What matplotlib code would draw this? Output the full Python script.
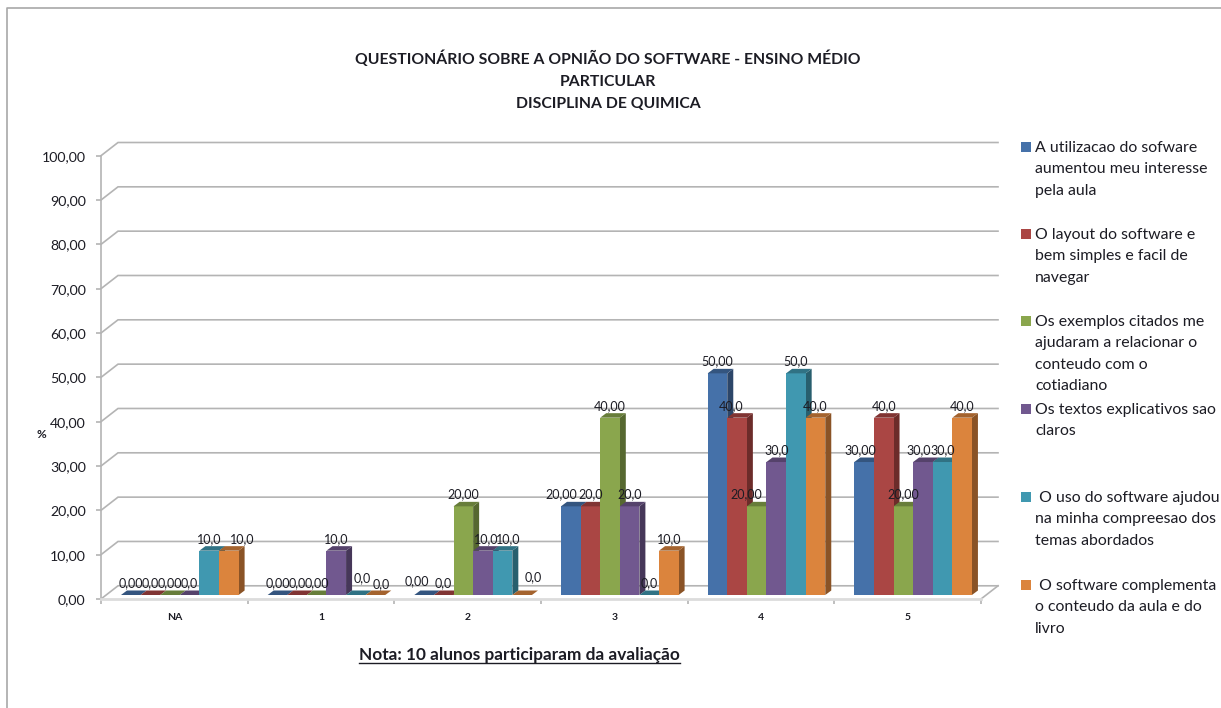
# Questionario - grafico de barras com aparencia 3D (estilo Excel)
import matplotlib
matplotlib.use('Agg')
import matplotlib.pyplot as plt
from matplotlib.patches import Polygon, Rectangle

plt.rcParams['font.family'] = ['Lato', 'DejaVu Sans']

# Dados
CATEGORIES = ['NA', '1', '2', '3', '4', '5']
INTERESSE = [0, 0, 0, 20, 50, 30]
LAYOUT = [0, 0, 0, 20, 40, 40]
EXEMPLOS = [0, 0, 20, 40, 20, 20]
TEXTOS = [0, 10, 10, 20, 30, 30]
COMPREENSAO = [10, 0, 10, 0, 50, 30]
COMPLEMENTA = [10, 0, 0, 10, 40, 40]
SERIES = [INTERESSE, LAYOUT, EXEMPLOS, TEXTOS, COMPREENSAO, COMPLEMENTA]
DECIMALS = [2, 1, 2, 1, 1, 1]
Y_TICKS = [0, 10, 20, 30, 40, 50, 60, 70, 80, 90, 100]

LEGEND = [
    'A utilizacao do sofware\naumentou meu interesse\npela aula',
    'O layout do software e\nbem simples e facil de\nnavegar',
    'Os exemplos citados me\najudaram a relacionar o\nconteudo com o\ncotiadiano',
    'Os textos explicativos sao\nclaros',
    ' O uso do software ajudou\nna minha compreesao dos\ntemas abordados',
    ' O software complementa\no conteudo da aula e do\nlivro',
]
LEGEND_Y = [147, 234, 321, 409, 497, 585]

TITLE = 'QUESTIONÁRIO SOBRE A OPNIÃO DO SOFTWARE - ENSINO MÉDIO\nPARTICULAR\nDISCIPLINA DE QUIMICA'
NOTE = 'Nota: 10 alunos participaram da avaliação'

# Cores: frente, lado, topo
FRONT = ['#4571a9', '#aa4644', '#8aa64d', '#71588f', '#4098b0', '#db843d']
SIDE = ['#2c4669', '#6c2c2a', '#566830', '#463759', '#285f6e', '#8a5326']
TOP = ['#34557f', '#803433', '#677d3a', '#55426b', '#307284', '#a4632e']
GRID = '#b4b4b4'
TEXT = '#1c1c24'

W, H = 1221, 708
LEFT, RIGHT, BOTTOM, UPPER = 101, 981, 599, 155.7
DEPTH_X, DEPTH_Y = 17, 13.2
BAR_W = 19.6
BAR_START = 20
BAR_LIFT = 4
BAR_DX, BAR_DY = 6, 4.5

# Ajustes (px) dos rotulos que o Excel deslocou
NUDGE = {
    (0, 5): (13, 0), (1, 4): (6, 5), (1, 5): (6, -1), (2, 0): (-7, 2),
    (2, 1): (0, 0), (2, 3): (3, 0), (2, 4): (6, 0), (2, 5): (11, 6),
    (4, 1): (-6, 0), (4, 2): (-10, 0), (5, 0): (-4, 0), (5, 3): (-4, 0),
    (3, 0): (-10, 0),
}

fig = plt.figure(figsize=(W / 100, H / 100), dpi=100)
ax = fig.add_axes([LEFT / W, 1 - BOTTOM / H, (RIGHT - LEFT) / W, (BOTTOM - UPPER) / H])
ax.set_xlim(0, len(CATEGORIES))
ax.set_ylim(0, 100)
ax.patch.set_visible(False)

PX = len(CATEGORIES) / (RIGHT - LEFT)
PY = 100 / (BOTTOM - UPPER)

# Paredes e grade em perspectiva
for tick in Y_TICKS:
    ax.plot([0, DEPTH_X * PX, 6 + DEPTH_X * PX],
            [tick, tick + DEPTH_Y * PY, tick + DEPTH_Y * PY],
            color=GRID, lw=1.2, clip_on=False, zorder=1, solid_joinstyle='miter')
ax.plot([6, 6 + DEPTH_X * PX], [0, DEPTH_Y * PY], color=GRID, lw=1.2, clip_on=False, zorder=1)

# Barras
for i in range(len(CATEGORIES)):
    for j, values in enumerate(SERIES):
        value = values[i]
        x0 = i + (BAR_START + j * BAR_W) * PX
        x1 = x0 + BAR_W * PX
        y0 = BAR_LIFT * PY
        y1 = y0 + value
        dx, dy = BAR_DX * PX, BAR_DY * PY
        z = 3 + i * 10 + j
        if value > 0:
            ax.add_patch(Polygon([(x1, y0), (x1 + dx, y0 + dy), (x1 + dx, y1 + dy), (x1, y1)],
                                 fc=SIDE[j], ec='none', clip_on=False, zorder=z))
            ax.bar(x0, value, width=BAR_W * PX, bottom=y0, align='edge',
                   color=FRONT[j], clip_on=False, zorder=z)
        ax.add_patch(Polygon([(x0, y1), (x0 + dx, y1 + dy), (x1 + dx, y1 + dy), (x1, y1)],
                             fc=TOP[j], ec='none', clip_on=False, zorder=z))
        nx, ny = NUDGE.get((i, j), (0, 0))
        label = f'{value:.{DECIMALS[j]}f}'.replace('.', ',')
        ax.annotate(label, ((x0 + x1) / 2, y1), xytext=(nx * 0.72, (12 + ny) * 0.72),
                    textcoords='offset points', ha='center', va='center',
                    fontsize=9, color=TEXT, zorder=200, annotation_clip=False)

# Eixos
for name in ['top', 'right']:
    ax.spines[name].set_visible(False)
for name in ['left', 'bottom']:
    ax.spines[name].set_color(GRID)
    ax.spines[name].set_linewidth(1.2)
ax.spines['bottom'].set_linewidth(2)
ax.spines['bottom'].set_color('#dcdcdc')
ax.set_yticks(Y_TICKS)
ax.set_yticklabels([f'{t:.2f}'.replace('.', ',') for t in Y_TICKS], fontsize=10.2, color=TEXT)
ax.set_xticks(range(len(CATEGORIES) + 1))
ax.set_xticklabels([])
ax.tick_params(axis='both', color=GRID, length=3.5, width=1.2, pad=7.5)
for i, name in enumerate(CATEGORIES):
    ax.annotate(name, (i + 0.5, 0), xytext=(0, -13), textcoords='offset points',
                ha='center', va='center', fontsize=7.5, fontweight='bold', color=TEXT,
                annotation_clip=False)


def px_text(x, y, text, **kw):
    fig.text(x / W, 1 - y / H, text, **kw)


px_text(41, 435, '%', fontsize=8.5, fontweight='bold', color=TEXT, ha='center', va='center')
px_text(608, 81, TITLE, fontsize=11.3, fontweight='bold', color=TEXT, ha='center', va='center',
        linespacing=1.72)
px_text(519, 655, NOTE, fontsize=12.4, fontweight='bold', color=TEXT, ha='center', va='center')
fig.add_artist(plt.Line2D([359 / W, 680 / W], [1 - 662.5 / H, 1 - 662.5 / H], color=TEXT, lw=1))

# Legenda
for j, (text, y) in enumerate(zip(LEGEND, LEGEND_Y)):
    fig.add_artist(Rectangle((1021 / W, 1 - (y + 5) / H), 10 / W, 10 / H, fc=FRONT[j], ec='none',
                             transform=fig.transFigure))
    px_text(1035, y - 6, text, fontsize=11.4, color=TEXT, ha='left', va='top', linespacing=1.66)

# Moldura
fig.add_artist(plt.Line2D([7 / W, 7 / W, 1221 / W], [0, 1 - 8 / H, 1 - 8 / H], color='#a8a8a8', lw=1.2))

fig.savefig('out.png', dpi=100)
